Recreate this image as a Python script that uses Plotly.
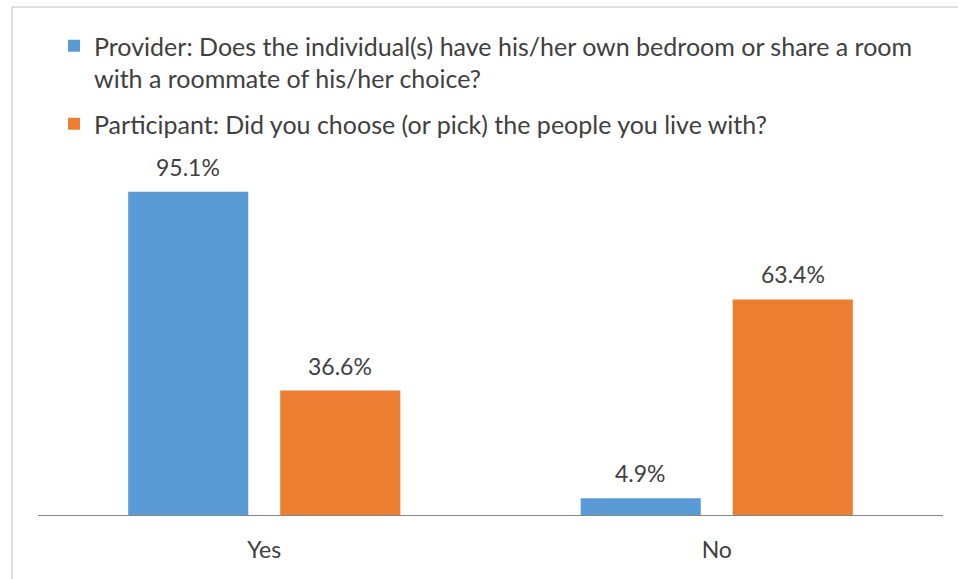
import plotly.graph_objects as go

categories = ["Yes", "No"]
provider_values = [95.1, 4.9]
participant_values = [36.6, 63.4]
provider_name = "Provider: Does the individual(s) have his/her own bedroom or share a room<br>with a roommate of his/her choice?"
participant_name = "Participant: Did you choose (or pick) the people you live with?"

BLUE = "#5B9BD5"
ORANGE = "#ED7D31"
TEXT = "#404040"
FONT = "Lato"
W, H = 958, 579
ML, MR, MT, MB = 38, 15, 175, 64
PW, PH = W - ML - MR, H - MT - MB

BARGAP = 0.328
SLOT = (1 - BARGAP) / 2  # width of each series slot within a category

fig = go.Figure()
fig.add_trace(go.Bar(
    x=categories, y=provider_values, name=provider_name, legendgroup="provider",
    marker=dict(color=BLUE, line=dict(width=0)),
))
fig.add_trace(go.Bar(
    x=categories, y=participant_values, name=participant_name, legendgroup="participant",
    marker=dict(color=ORANGE, line=dict(width=0)),
))

# value labels above each bar
annotations = []
for series_idx, values in enumerate([provider_values, participant_values]):
    offset = (series_idx - 0.5) * SLOT
    for cat_idx, v in enumerate(values):
        annotations.append(dict(
            x=cat_idx + offset, y=v, xref="x", yref="y",
            text=f"{v:.1f}%", showarrow=False,
            yanchor="bottom", yshift=9,
            font=dict(size=23, color=TEXT, family=FONT),
        ))

frame_x = (12 - ML) / PW
frame_y = 1 + (MT - 7) / PH

fig.update_layout(
    width=W, height=H,
    margin=dict(l=ML, r=MR, t=MT, b=MB, autoexpand=False),
    paper_bgcolor="white", plot_bgcolor="white",
    barmode="group", bargap=BARGAP, bargroupgap=0.21,
    font=dict(family=FONT, size=23, color=TEXT),
    showlegend=True,
    legend=dict(
        x=(54 - ML) / PW, xref="paper", xanchor="left",
        y=1 + (MT - 23) / PH, yref="paper", yanchor="top",
        valign="top", itemwidth=30, tracegroupgap=10,
        font=dict(size=25, color=TEXT, family=FONT),
        bgcolor="rgba(0,0,0,0)",
    ),
    xaxis=dict(
        showline=True, linecolor="#868686", linewidth=1,
        ticks="", ticklabelstandoff=14,
        tickfont=dict(size=23, color=TEXT, family=FONT),
        showgrid=False, zeroline=False,
    ),
    yaxis=dict(
        range=[0, 100], visible=False, showgrid=False, zeroline=False,
    ),
    annotations=annotations,
    shapes=[
        dict(type="line", xref="paper", yref="paper", x0=frame_x, x1=1.2, y0=frame_y, y1=frame_y,
             line=dict(color="#BFBFBF", width=1)),
        dict(type="line", xref="paper", yref="paper", x0=frame_x, x1=frame_x, y0=frame_y, y1=-0.2,
             line=dict(color="#BFBFBF", width=1)),
    ],
)

fig.write_html("out.html")
